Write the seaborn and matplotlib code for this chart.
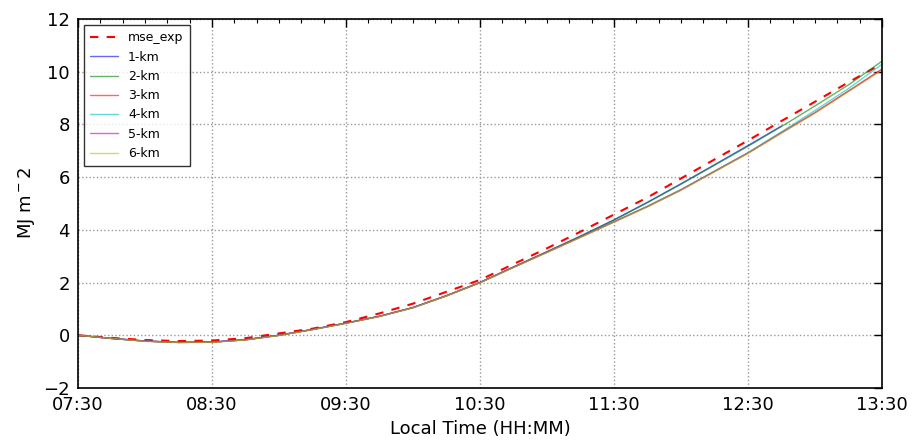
import pandas as pd
import numpy as np
import seaborn as sns
import matplotlib.pyplot as plt
import matplotlib.dates as mdates
from matplotlib.ticker import MultipleLocator, NullLocator

# 15-minute times, 07:30 -> 13:30
times = ['07:30', '07:45', '08:00', '08:15', '08:30', '08:45', '09:00', '09:15',
         '09:30', '09:45', '10:00', '10:15', '10:30', '10:45', '11:00', '11:15',
         '11:30', '11:45', '12:00', '12:15', '12:30', '12:45', '13:00', '13:15', '13:30']

mse_exp = [0, -0.10, -0.18, -0.22, -0.20, -0.11, 0.07, 0.25, 0.50, 0.83, 1.20, 1.65, 2.10,
           2.70, 3.30, 3.93, 4.58, 5.23, 5.95, 6.67, 7.39, 8.13, 8.86, 9.60, 10.30]
km1 = [0, -0.12, -0.22, -0.27, -0.26, -0.17, 0.00, 0.22, 0.46, 0.72, 1.05, 1.50, 2.00,
       2.59, 3.17, 3.76, 4.38, 5.05, 5.75, 6.47, 7.20, 7.94, np.nan, np.nan, np.nan]
km2 = [0, -0.12, -0.22, -0.27, -0.26, -0.17, 0.00, 0.22, 0.46, 0.72, 1.05, 1.50, 2.00,
       2.59, 3.17, 3.76, 4.37, 5.03, 5.73, 6.45, 7.17, 7.92, 8.70, 9.50, 10.40]
km3 = [0, -0.12, -0.22, -0.27, -0.26, -0.17, 0.00, 0.22, 0.46, 0.72, 1.05, 1.50, 2.00,
       2.58, 3.15, 3.73, 4.30, 4.89, 5.52, 6.22, 6.92, 7.69, 8.45, 9.27, 10.10]
km4 = [0, -0.12, -0.22, -0.27, -0.26, -0.17, 0.00, 0.22, 0.46, 0.72, 1.05, 1.50, 2.00,
       2.58, 3.15, 3.73, 4.31, 4.90, 5.53, 6.23, 6.93, 7.72, 8.53, 9.36, 10.28]
km5 = [0, -0.12, -0.22, -0.27, -0.26, -0.17, 0.00, 0.22, 0.46, 0.72, 1.05, 1.50, 2.00,
       2.58, 3.15, 3.72, 4.30, 4.88, 5.51, 6.21, 6.91, 7.68, 8.44, 9.26, 10.08]
km6 = [0, -0.12, -0.23, -0.28, -0.27, -0.18, -0.01, 0.21, 0.45, 0.71, 1.04, 1.49, 1.99,
       2.57, 3.14, 3.71, 4.29, 4.87, 5.50, 6.20, 6.90, 7.67, 8.43, 9.25, 10.06]

labels = ['1-km', '2-km', '3-km', '4-km', '5-km', '6-km']
colors = ['b', 'g', 'r', 'c', 'm', 'y']

t = pd.to_datetime(['2016-07-01 ' + s for s in times])

sns.set_style('white')
plt.rcParams['font.family'] = ['DejaVu Sans']
plt.rcParams['mathtext.fontset'] = 'dejavusans'
plt.rcParams['text.color'] = 'black'
plt.rcParams['axes.labelcolor'] = 'black'
plt.rcParams['xtick.color'] = 'black'
plt.rcParams['ytick.color'] = 'black'

fig = plt.figure(figsize=(9.14, 4.41), dpi=100)
ax = fig.add_axes([0.0853, 0.1202, 0.8797, 0.8368])

sns.lineplot(x=t, y=mse_exp, ax=ax, color='r', linewidth=1.5, label='mse_exp')
ax.lines[-1].set_dashes([4, 4])
for lab, col, vals in zip(labels, colors, [km1, km2, km3, km4, km5, km6]):
    sns.lineplot(x=t, y=vals, ax=ax, color=col, linewidth=1, alpha=0.6, label=lab)

ax.set_xlim(t[0], t[-1])
ax.set_ylim(-2, 12)
ax.xaxis.set_major_locator(mdates.MinuteLocator(byminute=[30]))
ax.xaxis.set_minor_locator(mdates.MinuteLocator(byminute=[0, 10, 20, 40, 50]))
ax.xaxis.set_major_formatter(mdates.DateFormatter('%H:%M'))
ax.yaxis.set_major_locator(MultipleLocator(2))
ax.yaxis.set_minor_locator(NullLocator())

ax.tick_params(which='both', direction='in', top=True, right=True, labelsize=13, pad=6)
ax.tick_params(which='major', length=6, width=1)
ax.tick_params(which='minor', length=3, width=0.8)
for sp in ax.spines.values():
    sp.set_color('black')
    sp.set_linewidth(1.2)

ax.grid(True, which='major', linestyle=':', color='0.6', linewidth=1)
ax.set_xlabel('Local Time (HH:MM)', fontsize=13)
ax.set_ylabel(r'MJ m$^-2$', fontsize=13)

leg = ax.legend(loc='upper left', fontsize=9, frameon=True, fancybox=False,
                handlelength=2.2, labelspacing=0.5, borderpad=0.5)
leg.get_frame().set_edgecolor('black')
leg.get_frame().set_linewidth(1)

plt.savefig('out.png', dpi=100)
